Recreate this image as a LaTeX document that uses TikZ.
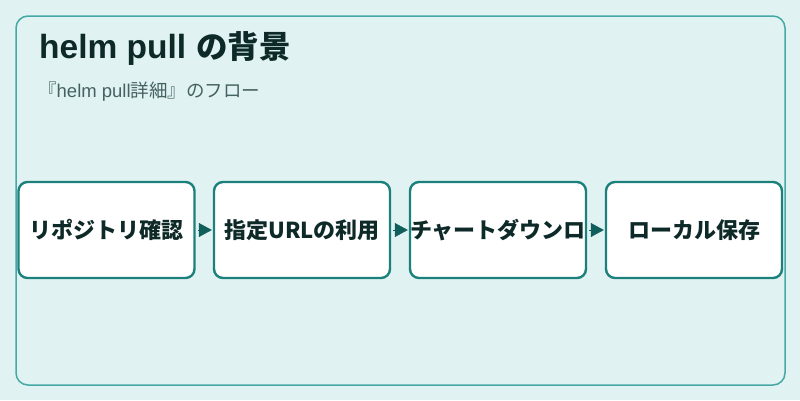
\documentclass[tikz,border=0pt]{standalone}
\usepackage{fontspec}
\setmainfont{Liberation Sans}
\newfontfamily\jp{Noto Sans CJK JP}
\usetikzlibrary{positioning, arrows.meta}

\definecolor{bgteal}{HTML}{E0F3F2}
\definecolor{frameteal}{HTML}{45A8A6}
\definecolor{boxteal}{HTML}{1C807C}
\definecolor{arrowteal}{HTML}{105F5C}
\definecolor{titleink}{HTML}{0E2A28}
\definecolor{subink}{HTML}{456262}

\tikzset{
    stepbox/.style={draw=boxteal, line width=2.4pt, fill=white, rounded corners=9pt,
        minimum width=176pt, minimum height=96pt, inner sep=0pt,
        font=\jp\bfseries\fontsize{22}{24}\selectfont, text=titleink},
    flow/.style={draw=arrowteal, line width=0.4pt, -{Triangle[length=13pt, width=14pt]}}
}

\begin{document}
\begin{tikzpicture}[x=1pt, y=-1pt]

            % Background and frame
            \useasboundingbox (0,0) rectangle (800,400);
            \fill[bgteal] (0,0) rectangle (800,400);
            \draw[frameteal, line width=1.5pt, rounded corners=12pt] (16,16) rectangle (785,385);

            % Title
            \node[anchor=base west, inner sep=0pt, text=titleink,
                font=\bfseries\fontsize{33.5}{36}\selectfont] (title) at (39,58)
                {helm pull\hspace{10pt}{\jp\fontsize{31.5}{34}\selectfont の背景}};
            \node[anchor=base west, inner sep=0pt, text=subink,
                font=\fontsize{18.5}{20}\selectfont] (subtitle) at (38,97)
                {{\jp 『}helm pull{\jp 詳細』のフロー}};

            % Steps
            \node[stepbox] (repo) at (106.5,230) {リポジトリ確認};
            \node[stepbox] (url) at (302,230) {指定URLの利用};
            \node[stepbox] (chart) at (498,230) {チャートダウンロ};
            \node[stepbox] (local) at (694,230) {ローカル保存};

            % Arrows
            \draw[flow] ([xshift=2pt]repo.east) -- ([xshift=-1pt]url.west);
            \draw[flow] ([xshift=2pt]url.east) -- ([xshift=-1pt]chart.west);
            \draw[flow] ([xshift=2pt]chart.east) -- ([xshift=-1pt]local.west);

        \end{tikzpicture}
\end{document}
